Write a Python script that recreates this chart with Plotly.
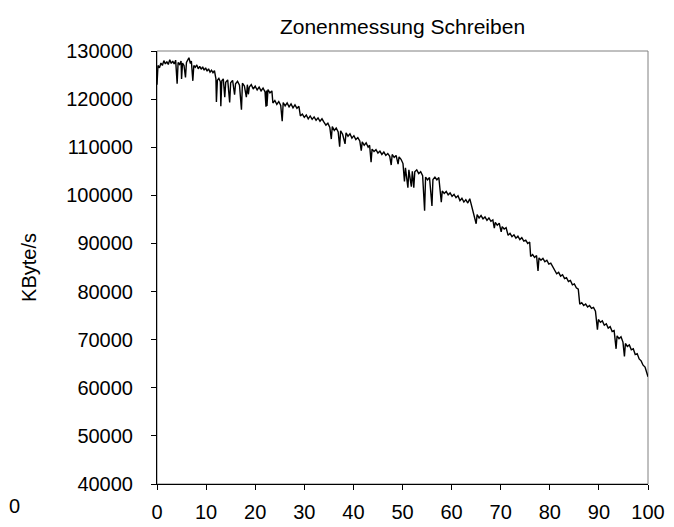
import plotly.graph_objects as go

# Position (percent of disk) and write rate (KByte/s)
pos = [0, 0.2, 0.5, 0.8, 1.1, 1.4, 1.7, 2.0, 2.3, 2.6, 2.9, 3.2, 3.5, 3.8, 4.1, 4.3, 4.6, 4.9, 5.0, 5.2,
       5.5, 5.8, 6.0, 6.3, 6.5, 6.8, 7.0, 7.3, 7.5, 7.8, 8.1, 8.4, 8.7, 9.0, 9.3, 9.6, 9.9, 10.2, 10.5, 10.8,
       11.1, 11.4, 11.7, 12.0, 12.1, 12.3, 12.6, 12.9, 13.0, 13.2, 13.5, 13.8, 14.0, 14.4, 14.8, 15.0, 15.4, 15.8, 16.0, 16.4,
       16.8, 17.2, 17.4, 17.8, 18.2, 18.4, 18.6, 18.8, 19.2, 19.6, 20.0, 20.4, 20.8, 21.2, 21.6, 22.0, 22.2, 22.3, 22.4, 22.6,
       23.0, 23.4, 23.6, 24.0, 24.4, 24.8, 25.2, 25.5, 25.7, 26.1, 26.5, 26.9, 27.3, 27.7, 28.1, 28.5, 28.9, 29.2, 29.6, 30.0,
       30.4, 30.8, 31.2, 31.6, 32.0, 32.4, 32.8, 33.2, 33.6, 34.0, 34.4, 34.8, 35.2, 35.5, 35.7, 36.1, 36.5, 36.9, 37.2, 37.4,
       37.8, 38.3, 38.5, 38.9, 39.3, 39.7, 40.1, 40.5, 40.9, 41.3, 41.6, 41.8, 42.2, 42.6, 43.0, 43.3, 43.6, 43.8, 44.2, 44.6,
       45.0, 45.4, 45.8, 46.2, 46.6, 47.0, 47.4, 47.7, 47.9, 48.3, 48.7, 49.1, 49.3, 49.7, 50.1, 50.4, 50.6, 51.1, 51.3, 51.8,
       52.0, 52.3, 52.5, 52.9, 53.3, 53.7, 54.1, 54.5, 54.7, 55.1, 55.5, 56.0, 56.2, 56.6, 57.0, 57.4, 57.9, 58.1, 58.5, 58.9,
       59.3, 59.7, 60.1, 60.5, 60.9, 61.3, 61.7, 62.1, 62.5, 62.9, 63.3, 63.7, 64.0, 64.4, 64.7, 65.0, 65.2, 65.6, 66.0, 66.4,
       66.8, 67.2, 67.6, 68.0, 68.4, 68.7, 68.9, 69.3, 69.7, 70.1, 70.3, 70.7, 71.1, 71.5, 71.9, 72.3, 72.7, 73.1, 73.5, 73.9,
       74.3, 74.7, 75.1, 75.5, 75.9, 76.1, 76.5, 76.9, 77.3, 77.6, 77.8, 78.2, 78.6, 79.0, 79.4, 79.8, 80.2, 80.6, 81.0, 81.4,
       81.8, 82.2, 82.6, 83.0, 83.4, 83.8, 84.2, 84.6, 85.0, 85.4, 85.8, 86.1, 86.5, 86.9, 87.3, 87.7, 88.1, 88.5, 88.9, 89.3,
       89.7, 89.9, 90.3, 90.7, 91.1, 91.5, 91.9, 92.3, 92.7, 93.1, 93.5, 93.7, 94.1, 94.5, 94.9, 95.2, 95.4, 95.8, 96.2, 96.6,
       97.0, 97.4, 97.8, 98.2, 98.6, 99.0, 99.4, 99.7, 100.0]

rate = [123000, 127000, 126500, 127500, 127000, 128000, 127300, 127800, 127200, 128200, 127400, 127900, 127300, 128100, 123200, 127600, 127200, 127900, 124200, 127500,
        127000, 124500, 127600, 128100, 128600, 127400, 127900, 123800, 127000, 126600, 127100, 126300, 126800, 126200, 126700, 126000, 126500, 125800, 126300, 125600,
        126000, 125500, 125900, 124200, 119400, 123900, 124300, 123600, 118500, 123800, 124200, 120400, 123500, 124000, 119300, 123400, 123900, 120900, 123200, 123700,
        122900, 117800, 123300, 122700, 120400, 123000, 121000, 122500, 123000, 122100, 122700, 121900, 122500, 121700, 122300, 121500, 118400, 121800, 118600, 122000,
        121300, 121700, 119200, 119700, 118900, 119500, 118700, 115400, 119300, 118600, 119200, 118400, 119000, 118200, 118800, 118100, 118500, 116500, 116900, 116200,
        116700, 115900, 116500, 115800, 116300, 115600, 116100, 115400, 115900, 115200, 114600, 115000, 114100, 111700, 114300, 113500, 114000, 113200, 110100, 113400,
        112700, 110700, 113000, 112300, 112800, 111900, 112400, 111600, 112000, 111300, 109300, 111100, 110400, 110900, 110000, 110400, 106900, 109600, 109100, 109500,
        108800, 109200, 108500, 109000, 108300, 108700, 108100, 106300, 108500, 107900, 108300, 106500, 108000, 107500, 106600, 102900, 105700, 101600, 105300, 101800,
        105000, 101600, 104900, 105300, 104500, 104900, 104100, 96800, 103800, 103200, 103700, 97800, 103300, 103800, 103200, 103700, 98600, 100900, 100400, 100800,
        100100, 100500, 99800, 100200, 99500, 99900, 98900, 99400, 98600, 99100, 98400, 99300, 98200, 96500, 95600, 94100, 96000, 95300, 95800, 95100,
        95500, 94800, 95300, 94600, 94900, 93200, 94400, 93800, 94200, 92400, 93500, 93000, 93300, 91700, 92100, 91400, 91800, 91100, 91500, 90800,
        91200, 90500, 90700, 90000, 90300, 87300, 87700, 87100, 87500, 84300, 87000, 86500, 86900, 86200, 86500, 85700, 85900, 85100, 84400, 83700,
        84000, 83200, 83500, 82700, 82900, 82100, 82300, 81400, 81600, 80800, 80500, 77400, 77700, 77100, 77400, 76800, 77100, 76500, 76700, 75900,
        72100, 74200, 73600, 73900, 73000, 73300, 72400, 72700, 71700, 71900, 68100, 70800, 70200, 70600, 69500, 66500, 69200, 68600, 68900, 67900,
        68100, 66900, 67100, 66000, 65600, 64700, 64300, 63300, 62300]

x_ticks = [0, 10, 20, 30, 40, 50, 60, 70, 80, 90, 100]
y_ticks = [40000, 50000, 60000, 70000, 80000, 90000, 100000, 110000, 120000, 130000]

title_text = "Zonenmessung Schreiben"
y_title = "KByte/s"
stray_label = "0"

FONT = "Liberation Sans, Arial, sans-serif"
FS = 20

fig = go.Figure()
fig.add_trace(go.Scatter(x=pos, y=rate, mode="lines",
                         line=dict(color="black", width=1.4), hoverinfo="x+y",
                         showlegend=False))

fig.update_layout(
    width=674, height=527,
    margin=dict(l=149, r=34, t=43, b=40),
    paper_bgcolor="white", plot_bgcolor="white",
    font=dict(family=FONT, size=FS, color="black"),
    title=dict(text=title_text, x=(149 + 640) / 2 / 674, xanchor="center",
               y=1 - 19 / 527, yanchor="middle",
               font=dict(family=FONT, size=21, color="black")),
    shapes=[dict(type="rect", xref="paper", yref="paper", x0=0, y0=0, x1=1, y1=1,
                 line=dict(color="#808080", width=1), layer="below")],
    annotations=[dict(text=stray_label, xref="paper", yref="paper",
                      x=(6 - 149) / 491, y=(487 - 510) / 444,
                      xanchor="center", yanchor="middle", showarrow=False,
                      font=dict(family=FONT, size=FS, color="black"))],
)

fig.update_xaxes(range=[0, 100], tickvals=x_ticks, ticktext=[str(v) for v in x_ticks],
                 showgrid=False, zeroline=False, showline=True, linecolor="black", linewidth=1,
                 ticks="outside", ticklen=5, tickcolor="black", tickwidth=1,
                 ticklabelstandoff=5,
                 tickfont=dict(family=FONT, size=FS, color="black"))
fig.update_yaxes(range=[40000, 130000], tickvals=y_ticks, ticktext=[str(v) for v in y_ticks],
                 showgrid=False, zeroline=False, showline=True, linecolor="black", linewidth=1,
                 ticks="outside", ticklen=5, tickcolor="black", tickwidth=1,
                 ticklabelstandoff=14,
                 title=dict(text=y_title, standoff=24,
                            font=dict(family=FONT, size=FS, color="black")),
                 tickfont=dict(family=FONT, size=FS, color="black"))

fig.write_html("out.html")
